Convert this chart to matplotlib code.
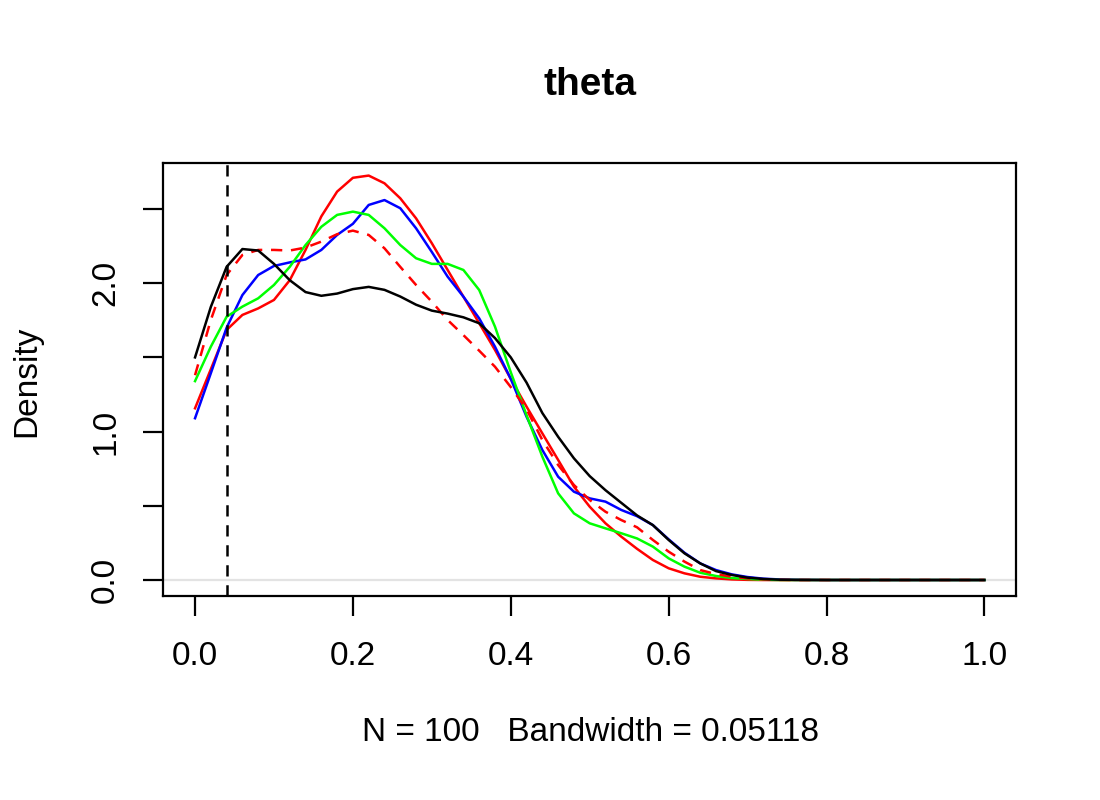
import matplotlib
matplotlib.use("Agg")
import matplotlib.pyplot as plt

plt.rcParams['font.family'] = ['Liberation Sans', 'DejaVu Sans']

# density curves (x grid + one list per curve)
x = [0.00, 0.02, 0.04, 0.06, 0.08, 0.10, 0.12, 0.14, 0.16, 0.18,
     0.20, 0.22, 0.24, 0.26, 0.28, 0.30, 0.32, 0.34, 0.36, 0.38,
     0.40, 0.42, 0.44, 0.46, 0.48, 0.50, 0.52, 0.54, 0.56, 0.58,
     0.60, 0.62, 0.64, 0.66, 0.68, 0.70, 0.72, 0.74, 0.76, 0.80,
     0.90, 1.00]

dens_black = [1.50, 1.84, 2.11, 2.23, 2.22, 2.13, 2.02, 1.94, 1.915, 1.93,
              1.96, 1.975, 1.955, 1.91, 1.855, 1.815, 1.795, 1.77, 1.73, 1.63,
              1.50, 1.33, 1.125, 0.965, 0.82, 0.70, 0.605, 0.52, 0.435, 0.37,
              0.27, 0.18, 0.112, 0.06, 0.034, 0.016, 0.007, 0.002, 0.001, 0.0,
              0.0, 0.0]

dens_red = [1.157, 1.42, 1.685, 1.786, 1.83, 1.887, 2.02, 2.224, 2.45, 2.617,
            2.71, 2.725, 2.673, 2.572, 2.437, 2.269, 2.089, 1.909, 1.73, 1.55,
            1.355, 1.168, 0.988, 0.809, 0.629, 0.494, 0.382, 0.292, 0.21, 0.135,
            0.079, 0.045, 0.022, 0.011, 0.004, 0.001, 0.0, 0.0, 0.0, 0.0,
            0.0, 0.0]

dens_blue = [1.09, 1.393, 1.70, 1.92, 2.055, 2.116, 2.14, 2.16, 2.224, 2.325,
             2.40, 2.527, 2.56, 2.505, 2.37, 2.21, 2.044, 1.909, 1.763, 1.572,
             1.355, 1.10, 0.876, 0.696, 0.595, 0.55, 0.528, 0.472, 0.43, 0.37,
             0.274, 0.184, 0.112, 0.067, 0.038, 0.02, 0.009, 0.004, 0.001, 0.0,
             0.0, 0.0]

dens_green = [1.34, 1.572, 1.774, 1.842, 1.898, 1.988, 2.11, 2.257, 2.38, 2.46,
              2.482, 2.46, 2.37, 2.257, 2.168, 2.13, 2.13, 2.089, 1.954, 1.707,
              1.40, 1.11, 0.831, 0.584, 0.449, 0.382, 0.348, 0.315, 0.28, 0.225,
              0.146, 0.09, 0.049, 0.027, 0.013, 0.007, 0.002, 0.0, 0.0, 0.0,
              0.0, 0.0]

dens_red_dash = [1.38, 1.752, 2.055, 2.19, 2.224, 2.224, 2.22, 2.24, 2.28, 2.33,
                 2.354, 2.325, 2.235, 2.11, 1.988, 1.875, 1.752, 1.65, 1.545, 1.437,
                 1.30, 1.15, 0.943, 0.775, 0.64, 0.539, 0.46, 0.404, 0.355, 0.27,
                 0.191, 0.124, 0.067, 0.04, 0.022, 0.011, 0.004, 0.001, 0.0, 0.0,
                 0.0, 0.0]

true_theta = 0.04
x_ticks = [0.0, 0.2, 0.4, 0.6, 0.8, 1.0]
y_ticks = [0.0, 0.5, 1.0, 1.5, 2.0, 2.5]
y_ticklabels = ["0.0", "", "1.0", "", "2.0", ""]

lw = 0.9
dash = (0, (4.5, 3.5))

fig = plt.figure(figsize=(5.5, 4), dpi=200)
ax = fig.add_axes([0.1486, 0.2544, 0.775, 0.5419])

ax.axhline(0, color="#e3e3e3", lw=0.8, zorder=1)
ax.plot(x, dens_red, color="red", lw=lw)
ax.plot(x, dens_blue, color="blue", lw=lw)
ax.plot(x, dens_green, color="#00ff00", lw=lw)
ax.plot(x, dens_red_dash, color="red", lw=lw, linestyle=dash)
ax.plot(x, dens_black, color="black", lw=lw)
ax.axvline(true_theta, color="black", lw=lw, linestyle=dash)

ax.set_xlim(-0.04, 1.04)
ax.set_ylim(-0.111, 2.81)

ax.set_xticks(x_ticks)
ax.set_xticklabels(["%.1f" % v for v in x_ticks])
ax.set_yticks(y_ticks)
ax.set_yticklabels(y_ticklabels, rotation=90, va="center")
ax.tick_params(length=7.2, width=0.8, labelsize=12, color="black")
ax.tick_params(axis="x", pad=9)
ax.tick_params(axis="y", pad=8)
for s in ax.spines.values():
    s.set_linewidth(0.8)

fig.text(590 / 1100, 1 - 95 / 800, "theta", ha="center", va="baseline",
         fontsize=14, fontweight="bold")
fig.text(590 / 1100, 1 - 741 / 800, "N = 100   Bandwidth = 0.05118",
         ha="center", va="baseline", fontsize=12)
fig.text(35 / 1100, 1 - 381 / 800, "Density", rotation=90, rotation_mode="anchor",
         ha="center", va="baseline", fontsize=12)

fig.savefig("out.png", dpi=200)
